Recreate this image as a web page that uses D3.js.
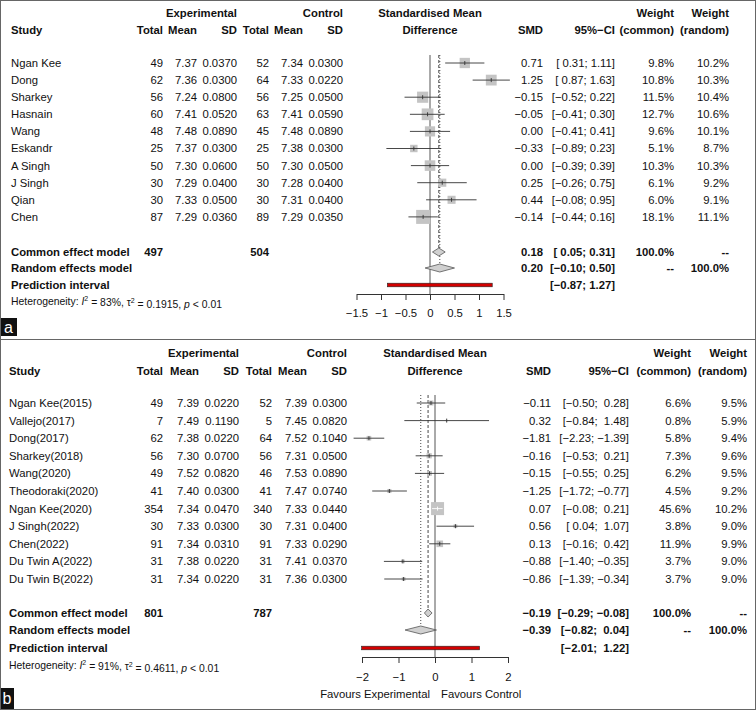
<!DOCTYPE html>
<html>
<head>
<meta charset="utf-8">
<script src="https://d3js.org/d3.v7.min.js"></script>
<style>
  body { margin: 0; background: #fff; }
  text { font-family: "Liberation Sans", Arial, sans-serif; white-space: pre; }
</style>
</head>
<body>
<script>
// ---- panel a data ----
const studiesA = ["Ngan Kee", "Dong", "Sharkey", "Hasnain", "Wang", "Eskandr", "A Singh", "J Singh", "Qian", "Chen"];
const nExpA = [49, 62, 56, 60, 48, 25, 50, 30, 30, 87];
const meanExpA = [7.37, 7.36, 7.24, 7.41, 7.48, 7.37, 7.30, 7.29, 7.33, 7.29];
const sdExpA = [0.0370, 0.0300, 0.0800, 0.0520, 0.0890, 0.0300, 0.0600, 0.0400, 0.0500, 0.0360];
const nCtlA = [52, 64, 56, 63, 45, 25, 50, 30, 30, 89];
const meanCtlA = [7.34, 7.33, 7.25, 7.41, 7.48, 7.38, 7.30, 7.28, 7.31, 7.29];
const sdCtlA = [0.0300, 0.0220, 0.0500, 0.0590, 0.0890, 0.0300, 0.0500, 0.0400, 0.0400, 0.0350];
const smdA = [0.71, 1.25, -0.15, -0.05, 0.00, -0.33, 0.00, 0.25, 0.44, -0.14];
const lowA = [0.31, 0.87, -0.52, -0.41, -0.41, -0.89, -0.39, -0.26, -0.08, -0.44];
const highA = [1.11, 1.63, 0.22, 0.30, 0.41, 0.23, 0.39, 0.75, 0.95, 0.16];
const wCommonA = [9.8, 10.8, 11.5, 12.7, 9.6, 5.1, 10.3, 6.1, 6.0, 18.1];
const wRandomA = [10.2, 10.3, 10.4, 10.6, 10.1, 8.7, 10.3, 9.2, 9.1, 11.1];
const pooledA = { common: [0.18, 0.05, 0.31], random: [0.20, -0.10, 0.50], predict: [-0.87, 1.27], totals: [497, 504], i2: "83%", tau2: "0.1915" };
const ticksA = [-1.5, -1, -0.5, 0, 0.5, 1, 1.5];

// ---- panel b data ----
const studiesB = ["Ngan Kee(2015)", "Vallejo(2017)", "Dong(2017)", "Sharkey(2018)", "Wang(2020)", "Theodoraki(2020)", "Ngan Kee(2020)", "J Singh(2022)", "Chen(2022)", "Du Twin A(2022)", "Du Twin B(2022)"];
const nExpB = [49, 7, 62, 56, 49, 41, 354, 30, 91, 31, 31];
const meanExpB = [7.39, 7.49, 7.38, 7.30, 7.52, 7.40, 7.34, 7.33, 7.34, 7.38, 7.34];
const sdExpB = [0.0220, 0.1190, 0.0220, 0.0700, 0.0820, 0.0300, 0.0470, 0.0300, 0.0310, 0.0220, 0.0220];
const nCtlB = [52, 5, 64, 56, 46, 41, 340, 30, 91, 31, 31];
const meanCtlB = [7.39, 7.45, 7.52, 7.31, 7.53, 7.47, 7.33, 7.31, 7.33, 7.41, 7.36];
const sdCtlB = [0.0300, 0.0820, 0.1040, 0.0500, 0.0890, 0.0740, 0.0440, 0.0400, 0.0290, 0.0370, 0.0300];
const smdB = [-0.11, 0.32, -1.81, -0.16, -0.15, -1.25, 0.07, 0.56, 0.13, -0.88, -0.86];
const lowB = [-0.50, -0.84, -2.23, -0.53, -0.55, -1.72, -0.08, 0.04, -0.16, -1.40, -1.39];
const highB = [0.28, 1.48, -1.39, 0.21, 0.25, -0.77, 0.21, 1.07, 0.42, -0.35, -0.34];
const wCommonB = [6.6, 0.8, 5.8, 7.3, 6.2, 4.5, 45.6, 3.8, 11.9, 3.7, 3.7];
const wRandomB = [9.5, 5.9, 9.4, 9.6, 9.5, 9.2, 10.2, 9.0, 9.9, 9.0, 9.0];
const pooledB = { common: [-0.19, -0.29, -0.08], random: [-0.39, -0.82, 0.04], predict: [-2.01, 1.22], totals: [801, 787], i2: "91%", tau2: "0.4611" };
const ticksB = [-2, -1, 0, 1, 2];

const FS = 11.3;

const svg = d3.select("body").append("svg")
    .attr("width", 756)
    .attr("height", 710);

function fmt(v, d) { return v.toFixed(d).replace("-", "\u2212"); }
function pad(s, n) { while (s.length < n) s = " " + s; return s; }

function drawPanel(p) {
    const g = svg.append("g");
    const x = d3.scaleLinear().domain(p.domain).range(p.range);
    const rowY = i => p.row0 + i * p.step;
    const c = p.cols;

    function txt(xx, yy, s, anchor, bold, size) {
        return g.append("text")
            .attr("x", xx).attr("y", yy).attr("dy", "0.35em")
            .attr("text-anchor", anchor || "end")
            .attr("font-size", size || FS)
            .attr("font-weight", bold ? "bold" : "normal")
            .attr("fill", "#111")
            .text(s);
    }

    // headers
    txt(c.sdE, p.h1, "Experimental", "end", true);
    txt(c.sdC, p.h1, "Control", "end", true);
    txt(x(0), p.h1, "Standardised Mean", "middle", true);
    txt(c.wc, p.h1, "Weight", "end", true);
    txt(c.wr, p.h1, "Weight", "end", true);
    txt(c.study, p.h2, "Study", "start", true);
    txt(c.nE, p.h2, "Total", "end", true);
    txt(c.meanE, p.h2, "Mean", "end", true);
    txt(c.sdE, p.h2, "SD", "end", true);
    txt(c.nC, p.h2, "Total", "end", true);
    txt(c.meanC, p.h2, "Mean", "end", true);
    txt(c.sdC, p.h2, "SD", "end", true);
    txt(x(0), p.h2, "Difference", "middle", true);
    txt(c.smd, p.h2, "SMD", "end", true);
    txt(c.ci, p.h2, "95%\u2212CI", "end", true);
    txt(c.wc, p.h2, "(common)", "end", true);
    txt(c.wr, p.h2, "(random)", "end", true);

    // CI labels padded like R output
    const allLo = p.low.concat([p.pooled.common[1], p.pooled.random[1], p.pooled.predict[0]]).map(v => fmt(v, 2));
    const allHi = p.high.concat([p.pooled.common[2], p.pooled.random[2], p.pooled.predict[1]]).map(v => fmt(v, 2));
    const nl = d3.max(allLo, s => s.length), nh = d3.max(allHi, s => s.length);
    const ci = allLo.map((s, i) => "[" + pad(s, nl) + "; " + pad(allHi[i], nh) + "]");

    // study rows
    p.studies.forEach((s, i) => {
        const y = rowY(i);
        txt(c.study, y, s, "start");
        txt(c.nE, y, p.nE[i]);
        txt(c.meanE, y, p.meanE[i].toFixed(2));
        txt(c.sdE, y, p.sdE[i].toFixed(4));
        txt(c.nC, y, p.nC[i]);
        txt(c.meanC, y, p.meanC[i].toFixed(2));
        txt(c.sdC, y, p.sdC[i].toFixed(4));
        txt(c.smd, y, fmt(p.smd[i], 2));
        txt(c.ci, y, ci[i]);
        txt(c.wc, y, p.wc[i].toFixed(1) + "%");
        txt(c.wr, y, p.wr[i].toFixed(1) + "%");
    });

    // summary rows
    const pc = p.pooled;
    txt(c.study, p.yCommon, "Common effect model", "start", true);
    txt(c.nE, p.yCommon, pc.totals[0], "end", true);
    txt(c.nC, p.yCommon, pc.totals[1], "end", true);
    txt(c.smd, p.yCommon, fmt(pc.common[0], 2), "end", true);
    txt(c.ci, p.yCommon, ci[p.studies.length], "end", true);
    txt(c.wc, p.yCommon, "100.0%", "end", true);
    txt(c.wr, p.yCommon, "--", "end", true);
    txt(c.study, p.yRandom, "Random effects model", "start", true);
    txt(c.smd, p.yRandom, fmt(pc.random[0], 2), "end", true);
    txt(c.ci, p.yRandom, ci[p.studies.length + 1], "end", true);
    txt(c.wc, p.yRandom, "--", "end", true);
    txt(c.wr, p.yRandom, "100.0%", "end", true);
    txt(c.study, p.yPred, "Prediction interval", "start", true);
    txt(c.ci, p.yPred, ci[p.studies.length + 2], "end", true);

    // heterogeneity
    const het = g.append("text").attr("x", c.study).attr("y", p.yHet).attr("dy", "0.35em")
        .attr("font-size", 10.4).attr("fill", "#111");
    het.append("tspan").text("Heterogeneity: ");
    het.append("tspan").attr("font-style", "italic").text("I");
    het.append("tspan").attr("font-size", 7).attr("dy", "-0.45em").text("2");
    het.append("tspan").attr("dy", "0.45em").text(" = " + pc.i2 + ", \u03c4");
    het.append("tspan").attr("font-size", 7).attr("dy", "-0.45em").text("2");
    het.append("tspan").attr("dy", "0.45em").text(" = " + pc.tau2 + ", ");
    het.append("tspan").attr("font-style", "italic").text("p");
    het.append("tspan").text(" < 0.01");

    // reference lines
    g.append("line").attr("x1", x(0)).attr("x2", x(0))
        .attr("y1", p.lineTop).attr("y2", p.axisY)
        .attr("stroke", "#555").attr("stroke-width", 1);
    g.append("line").attr("x1", x(pc.random[0])).attr("x2", x(pc.random[0]))
        .attr("y1", p.lineTop).attr("y2", p.yRandom - 4)
        .attr("stroke", "#333").attr("stroke-width", 0.9).attr("stroke-dasharray", "1,2");
    g.append("line").attr("x1", x(pc.common[0])).attr("x2", x(pc.common[0]))
        .attr("y1", p.lineTop).attr("y2", p.yCommon - 4)
        .attr("stroke", "#333").attr("stroke-width", 0.9).attr("stroke-dasharray", "3,2");

    // squares, CI lines, point marks
    const size = d3.scaleSqrt().domain([0, d3.max(p.wc)]).range([0, p.maxSquare]);
    p.studies.forEach((s, i) => {
        const y = rowY(i), sz = size(p.wc[i]), cx = x(p.smd[i]);
        g.append("rect").attr("x", cx - sz / 2).attr("y", y - sz / 2)
            .attr("width", sz).attr("height", sz).attr("fill", "#c4c4c4");
        const inside = x(p.low[i]) >= cx - sz / 2 && x(p.high[i]) <= cx + sz / 2;
        const col = inside ? "#fff" : "#333";
        g.append("line").attr("x1", x(p.low[i])).attr("x2", x(p.high[i]))
            .attr("y1", y).attr("y2", y).attr("stroke", col).attr("stroke-width", 0.9);
        g.append("line").attr("x1", cx).attr("x2", cx)
            .attr("y1", y - 2).attr("y2", y + 2).attr("stroke", col).attr("stroke-width", 0.9);
    });

    // diamonds
    [[pc.common, p.yCommon], [pc.random, p.yRandom]].forEach(([v, y]) => {
        const pts = [[x(v[1]), y], [x(v[0]), y - 4], [x(v[2]), y], [x(v[0]), y + 4]];
        g.append("polygon").attr("points", pts.map(q => q.join(",")).join(" "))
            .attr("fill", "#d0d0d0").attr("stroke", "#555").attr("stroke-width", 0.8);
    });

    // prediction interval
    g.append("rect").attr("x", x(pc.predict[0])).attr("y", p.yPred - 1.8)
        .attr("width", x(pc.predict[1]) - x(pc.predict[0])).attr("height", 3.6)
        .attr("fill", "#d40000").attr("stroke", "#222").attr("stroke-width", 0.6);

    // axis
    const ax = g.append("g").attr("transform", "translate(0," + p.axisY + ")")
        .call(d3.axisBottom(x).tickValues(p.ticks).tickSize(6).tickSizeOuter(0)
            .tickPadding(p.tickPad).tickFormat(d3.format("~g")));
    ax.selectAll("path, line").attr("stroke", "#333");
    ax.selectAll("text").attr("font-size", FS).attr("fill", "#111")
        .attr("font-family", "'Liberation Sans', Arial, sans-serif");

    if (p.favours) {
        txt(x(0) - 5, p.favours, "Favours Experimental", "end");
        txt(x(0) + 6, p.favours, "Favours Control", "start");
    }

    // panel letter
    g.append("rect").attr("x", 0).attr("y", p.label.y).attr("width", p.label.w).attr("height", p.label.h)
        .attr("fill", "#111");
    g.append("text").attr("x", p.label.w / 2).attr("y", p.label.y + p.label.h / 2).attr("dy", "0.36em")
        .attr("text-anchor", "middle").attr("font-size", 16).attr("fill", "#fff").text(p.label.t);
}

drawPanel({
    studies: studiesA, nE: nExpA, meanE: meanExpA, sdE: sdExpA, nC: nCtlA, meanC: meanCtlA, sdC: sdCtlA,
    smd: smdA, low: lowA, high: highA, wc: wCommonA, wr: wRandomA, pooled: pooledA, ticks: ticksA,
    domain: [-1.5, 1.5], range: [356.5, 503.5],
    cols: { study: 11, nE: 163, meanE: 197, sdE: 237, nC: 269, meanC: 303, sdC: 343, smd: 543, ci: 615, wc: 674, wr: 729 },
    h1: 13, h2: 30, row0: 63, step: 17.1, yCommon: 252, yRandom: 268, yPred: 285, yHet: 301,
    axisY: 294, tickPad: 9, lineTop: 55, maxSquare: 14, favours: null,
    label: { t: "a", y: 318, w: 17, h: 18 }
});

drawPanel({
    studies: studiesB, nE: nExpB, meanE: meanExpB, sdE: sdExpB, nC: nCtlB, meanC: meanCtlB, sdC: sdCtlB,
    smd: smdB, low: lowB, high: highB, wc: wCommonB, wr: wRandomB, pooled: pooledB, ticks: ticksB,
    domain: [-2, 2], range: [362, 508],
    cols: { study: 9, nE: 163, meanE: 199, sdE: 239, nC: 272, meanC: 307, sdC: 347, smd: 551, ci: 629, wc: 691, wr: 747 },
    h1: 353, h2: 371, row0: 403, step: 17.6, yCommon: 613, yRandom: 630, yPred: 648, yHet: 665,
    axisY: 657, tickPad: 10, lineTop: 395, maxSquare: 13, favours: 694,
    label: { t: "b", y: 688, w: 14, h: 21 }
});

// frame
svg.append("rect").attr("x", 0.5).attr("y", 0.5).attr("width", 755).attr("height", 709)
    .attr("fill", "none").attr("stroke", "#666");
svg.append("line").attr("x1", 0).attr("x2", 756).attr("y1", 339.5).attr("y2", 339.5)
    .attr("stroke", "#666");
</script>
</body>
</html>
